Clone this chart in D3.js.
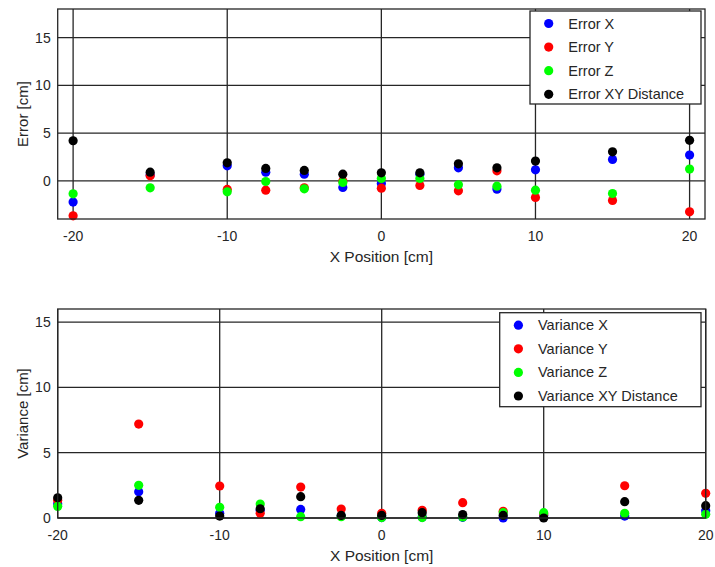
<!DOCTYPE html>
<html>
<head>
<meta charset="utf-8">
<title>Error and Variance</title>
<style>
  body { margin: 0; background: #fff; }
  text { font-family: "Liberation Sans", Arial, sans-serif; fill: #262626; }
  .grid line { stroke: #262626; stroke-width: 1.3; }
</style>
</head>
<body>
<svg width="715" height="567"></svg>
<script src="https://d3js.org/d3.v7.min.js"></script>
<script>

var positions = [-20, -15, -10, -7.5, -5, -2.5, 0, 2.5, 5, 7.5, 10, 15, 20];

// top panel: error
var errorX  = [-2.23, 0.6, 1.57, 0.91, 0.70, -0.70, -0.28, 0.70, 1.36, -0.87, 1.15, 2.24, 2.70];
var errorY  = [-3.67, 0.52, -0.90, -0.98, -0.73, -0.03, -0.77, -0.49, -1.05, 1.05, -1.74, -2.06, -3.25];
var errorZ  = [-1.36, -0.73, -1.15, -0.07, -0.84, -0.17, 0.25, 0.25, -0.42, -0.56, -0.98, -1.33, 1.23];
var errorXY = [4.20, 0.91, 1.89, 1.30, 1.09, 0.70, 0.84, 0.84, 1.78, 1.36, 2.07, 3.04, 4.24];

// bottom panel: variance
var varX  = [1.10, 2.01, 0.36, 0.60, 0.66, 0.15, 0.03, 0.05, 0.05, 0.00, 0.20, 0.15, 0.56];
var varY  = [1.35, 7.19, 2.45, 0.36, 2.37, 0.69, 0.36, 0.59, 1.17, 0.51, 0.30, 2.47, 1.89];
var varZ  = [0.89, 2.50, 0.82, 1.07, 0.10, 0.10, 0.03, 0.03, 0.08, 0.41, 0.41, 0.36, 0.28];
var varXY = [1.55, 1.35, 0.15, 0.71, 1.63, 0.20, 0.20, 0.41, 0.26, 0.20, 0.00, 1.25, 0.94];

var colors = ["#0000ff", "#ff0000", "#00ff00", "#000000"];
var errorNames = ["Error X", "Error Y", "Error Z", "Error XY Distance"];
var varNames = ["Variance X", "Variance Y", "Variance Z", "Variance XY Distance"];
var xTicks = [-20, -10, 0, 10, 20];
var yTicks = [0, 5, 10, 15];

var svg = d3.select("svg");

function panel(opts) {
    var x = d3.scaleLinear().domain(opts.xDomain).range([opts.left, opts.right]);
    var y = d3.scaleLinear().domain(opts.yDomain).range([opts.bottom, opts.top]);
    var g = svg.append("g");

    var grid = g.append("g").attr("class", "grid");
    grid.selectAll(".gx").data(xTicks).enter().append("line")
        .attr("x1", function(d) { return x(d); }).attr("x2", function(d) { return x(d); })
        .attr("y1", opts.top).attr("y2", opts.bottom);
    grid.selectAll(".gy").data(yTicks).enter().append("line")
        .attr("y1", function(d) { return y(d); }).attr("y2", function(d) { return y(d); })
        .attr("x1", opts.left).attr("x2", opts.right);

    // tick labels
    g.selectAll(".xt").data(xTicks).enter().append("text")
        .attr("x", function(d) { return x(d); })
        .attr("y", opts.bottom + 22)
        .attr("text-anchor", "middle")
        .attr("font-size", 14)
        .text(function(d) { return d; });
    g.selectAll(".yt").data(yTicks).enter().append("text")
        .attr("x", opts.left - 7)
        .attr("y", function(d) { return y(d) + 5; })
        .attr("text-anchor", "end")
        .attr("font-size", 14)
        .text(function(d) { return d; });

    g.append("text")
        .attr("x", (opts.left + opts.right) / 2)
        .attr("y", opts.bottom + 43)
        .attr("text-anchor", "middle")
        .attr("font-size", 15.5)
        .text("X Position [cm]");
    g.append("text")
        .attr("transform", "translate(28," + ((opts.top + opts.bottom) / 2) + ") rotate(-90)")
        .attr("text-anchor", "middle")
        .attr("font-size", 15)
        .text(opts.yLabel);

    // points, X then Y then Z then XY on top
    opts.series.forEach(function(vals, i) {
        g.append("g").selectAll("circle")
            .data(vals.map(function(v, j) { return [positions[j], v]; }))
            .enter().append("circle")
            .attr("cx", function(d) { return x(d[0]); })
            .attr("cy", function(d) { return y(d[1]); })
            .attr("r", 4.6)
            .attr("fill", colors[i]);
    });

    // box
    g.append("rect")
        .attr("x", opts.left).attr("y", opts.top)
        .attr("width", opts.right - opts.left).attr("height", opts.bottom - opts.top)
        .attr("fill", "none").attr("stroke", "#262626").attr("stroke-width", 1.3);

    // legend
    var lg = g.append("g");
    lg.append("rect")
        .attr("x", opts.leg[0]).attr("y", opts.leg[1])
        .attr("width", opts.leg[2]).attr("height", opts.leg[3])
        .attr("fill", "#fff").attr("stroke", "#262626").attr("stroke-width", 1.3);
    opts.names.forEach(function(n, i) {
        var cy = opts.leg[1] + 12.5 + i * 23.6;
        lg.append("circle")
            .attr("cx", opts.leg[0] + 18.7).attr("cy", cy)
            .attr("r", 4.6).attr("fill", colors[i]);
        lg.append("text")
            .attr("x", opts.leg[0] + 38.3).attr("y", cy + 5)
            .attr("font-size", 14.5)
            .text(n);
    });
}

panel({
    left: 57.7, right: 705, top: 9, bottom: 219,
    xDomain: [-21, 21], yDomain: [-4, 18],
    yLabel: "Error [cm]",
    series: [errorX, errorY, errorZ, errorXY],
    names: errorNames,
    leg: [530, 11, 171, 93]
});

panel({
    left: 57.7, right: 705.7, top: 309, bottom: 518,
    xDomain: [-20, 20], yDomain: [0, 16],
    yLabel: "Variance [cm]",
    series: [varX, varY, varZ, varXY],
    names: varNames,
    leg: [499.7, 312.7, 201.3, 94]
});

</script>
</body>
</html>
